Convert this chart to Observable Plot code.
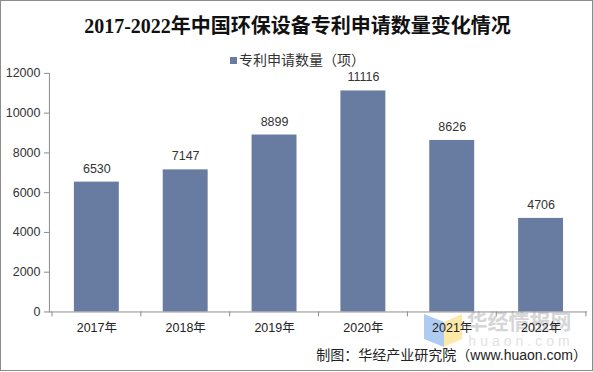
<!DOCTYPE html>
<html><head><meta charset="utf-8">
<script src="https://cdn.jsdelivr.net/npm/d3@7"></script>
<script src="https://cdn.jsdelivr.net/npm/@observablehq/plot@0.6"></script>
<style>
html,body{margin:0;padding:0;background:#fff;}
#wrap{position:relative;width:591px;height:369px;border:1px solid #8c8c8c;overflow:hidden;font-family:"Liberation Sans",Arial,"Noto Sans CJK SC",sans-serif;}
#title{position:absolute;left:0;top:9px;width:593px;text-align:center;font-family:"Liberation Serif","Noto Sans CJK SC",serif;font-weight:bold;font-size:20px;color:#111;white-space:nowrap;}
#legend{position:absolute;left:0;top:48px;width:593px;text-align:center;font-size:14px;color:#333;font-family:"Noto Sans CJK SC",sans-serif;}
#legend .sw{display:inline-block;width:7px;height:7px;background:#687ba0;margin-right:2px;vertical-align:1px;}
#caption{position:absolute;right:5px;top:343px;font-size:14px;color:#222;font-family:"Liberation Sans","Noto Sans CJK SC",sans-serif;white-space:nowrap;}
#plot{position:absolute;left:-1px;top:-1px;}
#wm{position:absolute;left:-1px;top:-1px;}
</style></head>
<body>
<div id="wrap">
<svg id="wm" width="593" height="372">
  <polygon points="424,314 444,322 444,347 424,339" fill="#aecbf2"/>
  <polygon points="444,322 462,314 462,339 444,347" fill="#fce9a8"/>
  <text id="wm1" x="519" y="329" text-anchor="middle" font-family="Noto Sans CJK SC" font-weight="bold" font-size="21" fill="#d6d6d6"></text>
  <text id="wm2" x="521" y="346" text-anchor="middle" font-family="Liberation Sans" font-size="14" letter-spacing="4" fill="#e2e2e2"></text>
</svg>
<div id="plot"></div>
<div id="title"></div>
<div id="legend"><span class="sw"></span><span id="legtext"></span></div>
<div id="caption"></div>
</div>
<script>
const titleText = "2017-2022年中国环保设备专利申请数量变化情况";
const seriesName = "专利申请数量（项）";
const captionText = "制图：华经产业研究院（www.huaon.com）";
const watermark1 = "华经情报网";
const watermark2 = "huaon.com";
const years = ["2017年","2018年","2019年","2020年","2021年","2022年"];
const values = [6530, 7147, 8899, 11116, 8626, 4706];
const yTicks = [0, 2000, 4000, 6000, 8000, 10000, 12000];

document.getElementById("title").textContent = titleText;
document.getElementById("legtext").textContent = seriesName;
document.getElementById("caption").textContent = captionText;
document.getElementById("wm1").textContent = watermark1;
document.getElementById("wm2").textContent = watermark2;

const data = years.map((y, i) => ({year: y, value: values[i]}));
const W = 593, H = 372, mL = 49, mR = 5;
const half = (W - mL - mR) / years.length / 2;
const pad = 0.5;

const chart = Plot.plot({
  width: W, height: H,
  marginLeft: mL, marginRight: mR, marginTop: 73, marginBottom: 60,
  style: {fontFamily: '"Liberation Sans", Arial, "Noto Sans CJK SC", sans-serif', fontSize: "12.5px", color: "#333", background: "transparent"},
  x: {domain: years, paddingInner: pad, paddingOuter: pad / 2, label: null, axis: null},
  y: {domain: [0, 12000], label: null, axis: null},
  marks: [
    Plot.barY(data, {x: "year", y: "value", fill: "#687ba0"}),
    Plot.text(data, {x: "year", y: "value", text: d => String(d.value), dy: -13.5, fill: "#333", fontSize: 12.5}),
    // y axis
    Plot.axisY({ticks: yTicks, tickSize: 5, tickPadding: 4, stroke: "#8c8c8c", fill: "#333", fontSize: 12.5, label: null, tickFormat: d => String(d)}),
    Plot.frame({anchor: "left", stroke: "#8c8c8c"}),
    // x axis
    Plot.ruleY([0], {stroke: "#8c8c8c"}),
    Plot.ruleX(years, {x: d => d, dx: -half, y1: 0, y2: -250, stroke: "#8c8c8c"}),
    Plot.ruleX([years[years.length - 1]], {x: d => d, dx: half, y1: 0, y2: -250, stroke: "#8c8c8c"}),
    Plot.text(years, {x: d => d, y: 0, text: d => d, dy: 16, fill: "#222", fontSize: 12.5})
  ]
});
document.getElementById("plot").appendChild(chart);
</script>
</body></html>
